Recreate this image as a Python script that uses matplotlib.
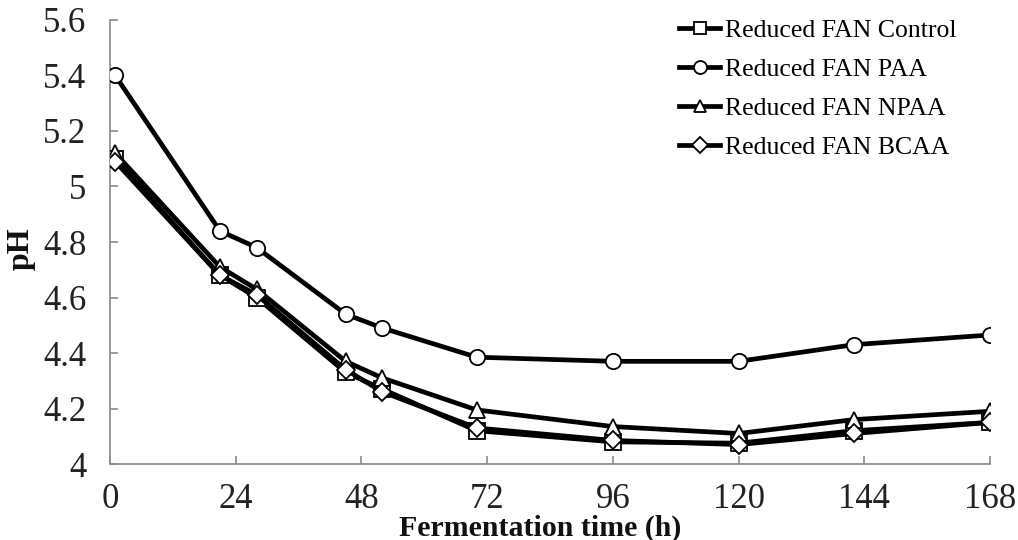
import matplotlib
matplotlib.use("Agg")
import matplotlib.pyplot as plt

# sampling times (h) and pH values
time_h = [1, 21, 28, 45, 52, 70, 96, 120, 142, 168]
ph_control = [5.10, 4.68, 4.60, 4.33, 4.27, 4.12, 4.08, 4.075, 4.12, 4.15]
ph_paa = [5.40, 4.84, 4.78, 4.54, 4.49, 4.385, 4.37, 4.37, 4.43, 4.465]
ph_npaa = [5.12, 4.71, 4.63, 4.37, 4.31, 4.195, 4.135, 4.11, 4.16, 4.19]
ph_bcaa = [5.09, 4.68, 4.61, 4.34, 4.26, 4.13, 4.085, 4.07, 4.11, 4.15]

series = [
    ('Reduced FAN Control', ph_control, 's'),
    ('Reduced FAN PAA', ph_paa, 'o'),
    ('Reduced FAN NPAA', ph_npaa, '^'),
    ('Reduced FAN BCAA', ph_bcaa, 'D'),
]

xticks = [0, 24, 48, 72, 96, 120, 144, 168]
yticks = [4.0, 4.2, 4.4, 4.6, 4.8, 5.0, 5.2, 5.4, 5.6]
ytick_labels = ['4', '4.2', '4.4', '4.6', '4.8', '5', '5.2', '5.4', '5.6']


def main():
    plt.rcParams.update({'font.family': 'Liberation Serif', 'font.size': 25})

    fig = plt.figure(figsize=(10.18, 5.40), dpi=100)
    ax = fig.add_axes([0.108, 0.1407, 0.8645, 0.8223])

    for label, values, marker in series:
        ms = 9 if marker == 'D' else 11
        ax.plot(time_h, values, color='black', linewidth=3.4, marker=marker,
                markersize=ms, markerfacecolor='white', markeredgecolor='black',
                markeredgewidth=1.3, label=label, zorder=3)

    ax.set_xlim(0, 168)
    ax.set_ylim(4.0, 5.6)
    ax.set_xticks(xticks)
    ax.set_xticklabels([str(t) for t in xticks])
    ax.set_yticks(yticks)
    ax.set_yticklabels(ytick_labels)

    for side in ['top', 'right']:
        ax.spines[side].set_visible(False)
    for side in ['left', 'bottom']:
        ax.spines[side].set_color('#8a8a8a')
        ax.spines[side].set_linewidth(1.2)
    ax.tick_params(axis='both', direction='in', length=6, width=1.2,
                   color='#8a8a8a', labelcolor='#222222')
    ax.tick_params(axis='x', pad=14)
    ax.tick_params(axis='y', pad=17)

    ax.set_xlabel('Fermentation time (h)', fontweight='bold', fontsize=21.5,
                  color='#111111')
    ax.xaxis.set_label_coords(0.4886, -0.114)
    ax.set_ylabel('pH', fontweight='bold', fontsize=23, color='#111111')
    ax.yaxis.set_label_coords(-0.085, 0.485)

    ax.legend(loc='upper left', bbox_to_anchor=(679 / 1018, 1 - 19 / 540),
              bbox_transform=fig.transFigure, frameon=False, fontsize=18.5,
              handlelength=1.6, handletextpad=0.2, labelspacing=0.62,
              borderaxespad=0, borderpad=0, markerscale=0.85)

    fig.savefig('out.png', dpi=100)
    plt.close(fig)


if __name__ == '__main__':
    main()
